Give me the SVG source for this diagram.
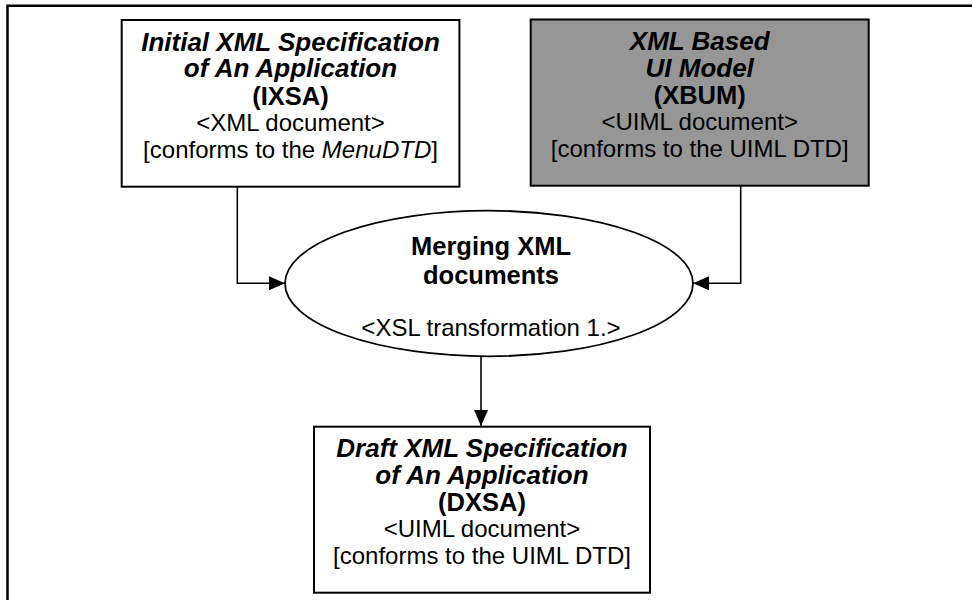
<svg xmlns="http://www.w3.org/2000/svg" width="972" height="600" viewBox="0 0 972 600">
<style>
  text { font-family: "Liberation Sans", Arial, sans-serif; fill: #000; text-anchor: middle; }
  .bi { font-weight: bold; font-style: italic; font-size: 26px; }
  .b { font-weight: bold; font-size: 25.5px; }
  .r { font-size: 24px; }
  .box { stroke: #000; stroke-width: 2; }
  .conn { stroke: #000; stroke-width: 1.6; fill: none; }
</style>
<defs>
  <marker id="arr" viewBox="0 0 16 14" refX="16" refY="7" markerWidth="16" markerHeight="14" markerUnits="userSpaceOnUse" orient="auto">
    <path d="M0,0 L16,7 L0,14 Z" fill="#000"/>
  </marker>
</defs>
<rect width="972" height="600" fill="#fff"/>
<g id="frame">
  <path d="M7.5,600 L7.5,5.8 L972,5.8" fill="none" stroke="#000" stroke-width="2.5"/>
</g>
<g id="connectors">
  <path class="conn" d="M237.3,186.7 L237.3,283.3 L285,283.3" marker-end="url(#arr)"/>
  <path class="conn" d="M740.7,185.7 L740.7,283.3 L693,283.3" marker-end="url(#arr)"/>
  <path class="conn" d="M481,356 L481,426" marker-end="url(#arr)"/>
</g>
<g id="ixsa">
  <rect class="box" x="121.7" y="20" width="337.7" height="166.7" fill="#fff"/>
  <text class="bi" x="290.5" y="50.5">Initial XML Specification</text>
  <text class="bi" x="290.5" y="77">of An Application</text>
  <text class="b" x="290.5" y="104.5">(IXSA)</text>
  <text class="r" x="290.5" y="130.5">&lt;XML document&gt;</text>
  <text class="r" x="290.5" y="157.5">[conforms to the <tspan font-style="italic">MenuDTD</tspan>]</text>
</g>
<g id="xbum">
  <rect class="box" x="530.7" y="19.5" width="338" height="166.2" fill="#969696"/>
  <text class="bi" x="699.7" y="50">XML Based</text>
  <text class="bi" x="699.7" y="76.5">UI Model</text>
  <text class="b" x="699.7" y="104">(XBUM)</text>
  <text class="r" x="699.7" y="130">&lt;UIML document&gt;</text>
  <text class="r" x="699.7" y="157">[conforms to the UIML DTD]</text>
</g>
<g id="merge">
  <ellipse cx="489" cy="283.5" rx="204" ry="72.8" fill="#fff" stroke="#000" stroke-width="1.8"/>
  <text class="b" x="491" y="255">Merging XML</text>
  <text class="b" x="491" y="284">documents</text>
  <text class="r" x="491" y="336">&lt;XSL transformation 1.&gt;</text>
</g>
<g id="dxsa">
  <rect class="box" x="314" y="426.7" width="336" height="166" fill="#fff"/>
  <text class="bi" x="482" y="457">Draft XML Specification</text>
  <text class="bi" x="482" y="483.5">of An Application</text>
  <text class="b" x="482" y="511">(DXSA)</text>
  <text class="r" x="482" y="537">&lt;UIML document&gt;</text>
  <text class="r" x="482" y="564">[conforms to the UIML DTD]</text>
</g>
</svg>
